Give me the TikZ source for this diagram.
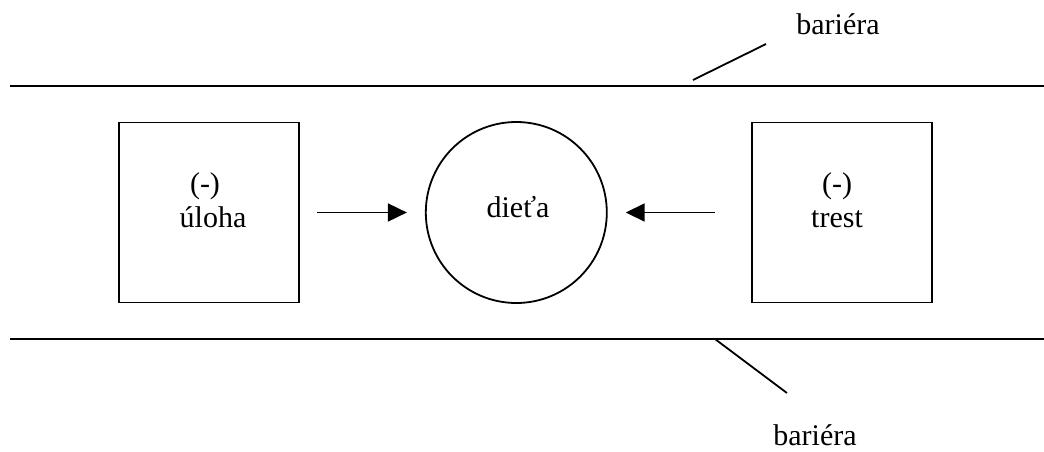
\documentclass[tikz,border=0pt]{standalone}
\usepackage{fontspec}
\setmainfont{Liberation Serif}
\usetikzlibrary{positioning}
\usetikzlibrary{arrows.meta}

\begin{document}
\begin{tikzpicture}[x=0.5pt,y=-0.5pt,line width=0.9pt,
  box/.style={draw,minimum size=90pt,inner sep=0pt},
  kid/.style={draw,circle,minimum size=90.5pt,inner sep=0pt},
  txt/.style={inner sep=0pt,anchor=base,font=\fontsize{15}{18}\selectfont},
  tip/.style={-{Triangle[length=9.5pt,width=9pt]}}]
 \useasboundingbox (0,0) rectangle (1044,451);
 % bariery
 \coordinate (hl) at (10,86);  \coordinate (hr) at (1044,86);
 \coordinate (dl) at (10,339); \coordinate (dr) at (1044,339);
 \draw (hl)--(hr);
 \draw (dl)--(dr);
 \node[txt] (bar1) at (838,34) {bariéra};
 \node[txt] (bar2) at (815,445) {bariéra};
 \coordinate (h1) at (693,80);  \coordinate (h2) at (766,44);
 \coordinate (d1) at (715,339); \coordinate (d2) at (787,393);
 \draw (h1)--(h2);
 \draw (d1)--(d2);
 % uloha, dieta, trest
 \node[box] (uloha) at (209,212.5) {};
 \node[kid,right=62.5pt of uloha] (dieta) {};
 \node[box,right=71.5pt of dieta] (trest) {};
 \node[txt] (ulohaM) at (205,193) {(-)};
 \node[txt] (ulohaT) at (213,227) {úloha};
 \node[txt] (dietaT) at (518,217) {dieťa};
 \node[txt] (trestM) at (837,193) {(-)};
 \node[txt] (trestT) at (837,227) {trest};
 \draw[tip,shorten <=8.5pt,shorten >=9pt] (uloha)--(dieta);
 \draw[tip,shorten <=18pt,shorten >=9pt] (trest)--(dieta);
\end{tikzpicture}
\end{document}
